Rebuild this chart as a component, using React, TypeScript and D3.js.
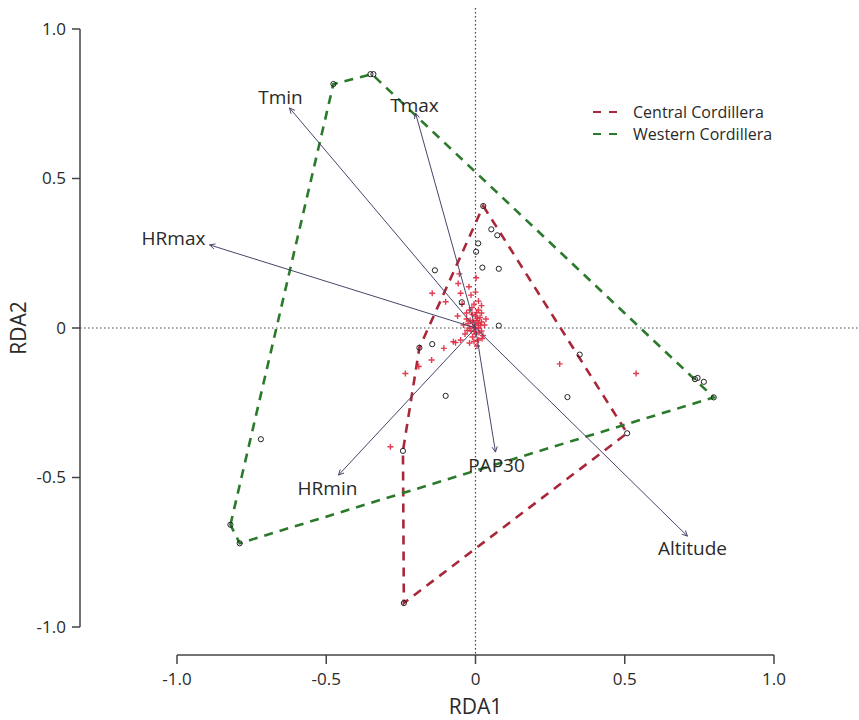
import React, { useRef, useEffect } from "react";
import * as d3 from "d3";

// site scores (open circles)
const sitesX = [0.026, 0.053, 0.073, 0.009, 0.002, 0.023, 0.078, -0.136, -0.046, 0.078, -0.145, -0.188, -0.100, 0.308, 0.349, 0.508, -0.243, -0.240, -0.719, -0.821, -0.790, -0.476, -0.352, -0.342, 0.735, 0.744, 0.765, 0.798];
const sitesY = [0.408, 0.330, 0.310, 0.283, 0.255, 0.202, 0.198, 0.193, 0.086, 0.008, -0.054, -0.066, -0.227, -0.231, -0.089, -0.352, -0.411, -0.920, -0.372, -0.658, -0.720, 0.816, 0.849, 0.849, -0.171, -0.167, -0.180, -0.232];

// species scores (red crosses)
const speciesX = [-0.145, -0.100, -0.022, -0.050, -0.058, -0.074, -0.106, -0.067, -0.147, -0.235, -0.190, -0.285, 0.282, 0.538, -0.054, 0.002,
  -0.01, 0.0, 0.01, -0.02, 0.02, 0.0, -0.01, 0.01, 0.03, -0.03, 0.0, -0.02, 0.01, -0.005, 0.02, -0.015, 0.005, -0.025, 0.015, -0.005, 0.025, -0.035, 0.0, 0.01, -0.01, 0.02, -0.03, -0.04, 0.035, 0.005, -0.02, 0.01, -0.015, 0.0, -0.045, -0.06, -0.05, 0.02,
  -0.008, 0.012, -0.018, 0.006, 0.022, -0.028, 0.004, -0.012, 0.016, -0.004];
const speciesY = [0.116, 0.088, 0.138, 0.116, 0.149, -0.046, -0.068, -0.049, -0.107, -0.152, -0.129, -0.397, -0.120, -0.152, 0.181, 0.168,
  0.02, 0.01, 0.0, 0.0, 0.02, -0.02, -0.03, -0.04, 0.01, 0.03, 0.04, 0.06, 0.06, 0.08, -0.01, -0.01, 0.025, 0.015, 0.035, -0.045, -0.025, -0.02, 0.0, 0.015, 0.045, 0.05, 0.05, 0.01, 0.03, -0.06, -0.05, 0.09, 0.11, 0.12, 0.08, 0.04, -0.04, 0.075,
  0.005, -0.015, 0.025, 0.032, -0.035, -0.008, 0.052, 0.068, 0.008, -0.012];

// convex hulls per group
const centralHull = [[0.026, 0.408], [0.508, -0.352], [-0.240, -0.920], [-0.243, -0.411], [-0.188, -0.066]];
const westernHull = [[-0.821, -0.658], [-0.476, 0.816], [-0.347, 0.849], [0.798, -0.232], [-0.790, -0.720]];

// environmental biplot arrows
const envNames = ["Tmin", "Tmax", "HRmax", "HRmin", "PAP30", "Altitude"];
const envX = [-0.623, -0.201, -0.891, -0.459, 0.067, 0.710];
const envY = [0.736, 0.719, 0.278, -0.492, -0.415, -0.696];

const ticks = [-1, -0.5, 0, 0.5, 1];
const tickLabels = ["-1.0", "-0.5", "0", "0.5", "1.0"];
const groups = ["Central Cordillera", "Western Cordillera"];

export default function App() {
  const ref = useRef<SVGSVGElement>(null);

  useEffect(() => {
    const width = 859;
    const height = 720;
    const font = "'Open Sans', 'Noto Sans', sans-serif";
    const textCol = "#2a2a2a";
    const colors = ["#a8283a", "#2b7a2b"];
    const arrowCol = "#46466a";

    const svg = d3.select(ref.current);
    svg.selectAll("*").remove();
    svg.attr("width", width).attr("height", height);

    const x = d3.scaleLinear().domain([-1, 1]).range([177, 774]);
    const y = d3.scaleLinear().domain([-1, 1]).range([627, 29]);

    // reference lines through origin
    svg.append("line")
      .attr("x1", 80).attr("x2", width)
      .attr("y1", y(0)).attr("y2", y(0))
      .attr("stroke", "#444").attr("stroke-width", 1.2)
      .attr("stroke-dasharray", "1.5,2.5");
    svg.append("line")
      .attr("x1", x(0)).attr("x2", x(0))
      .attr("y1", 8).attr("y2", 655)
      .attr("stroke", "#444").attr("stroke-width", 1.2)
      .attr("stroke-dasharray", "1.5,2.5");

    // left axis
    const left = svg.append("g").attr("transform", "translate(80,0)");
    left.append("line").attr("x1", 0).attr("x2", 0)
      .attr("y1", y(1)).attr("y2", y(-1))
      .attr("stroke", "#444").attr("stroke-width", 1.5);
    ticks.forEach((t, i) => {
      left.append("line").attr("x1", -8).attr("x2", 0)
        .attr("y1", y(t)).attr("y2", y(t))
        .attr("stroke", "#444").attr("stroke-width", 1.5);
      left.append("text")
        .attr("x", -14).attr("y", y(t)).attr("dy", "0.35em")
        .attr("text-anchor", "end")
        .attr("font-family", font).attr("font-size", 17).attr("fill", textCol)
        .text(tickLabels[i]);
    });

    // bottom axis
    const bottom = svg.append("g").attr("transform", "translate(0,655)");
    bottom.append("line").attr("x1", x(-1)).attr("x2", x(1))
      .attr("y1", 0).attr("y2", 0)
      .attr("stroke", "#444").attr("stroke-width", 1.5);
    ticks.forEach((t, i) => {
      bottom.append("line").attr("x1", x(t)).attr("x2", x(t))
        .attr("y1", 0).attr("y2", 9)
        .attr("stroke", "#444").attr("stroke-width", 1.5);
      bottom.append("text")
        .attr("x", x(t)).attr("y", 30)
        .attr("text-anchor", "middle")
        .attr("font-family", font).attr("font-size", 17).attr("fill", textCol)
        .text(tickLabels[i]);
    });

    svg.append("text")
      .attr("x", x(0)).attr("y", 714)
      .attr("text-anchor", "middle")
      .attr("font-family", font).attr("font-size", 21).attr("fill", textCol)
      .text("RDA1");
    svg.append("text")
      .attr("transform", `translate(26,${y(0)}) rotate(-90)`)
      .attr("text-anchor", "middle")
      .attr("font-family", font).attr("font-size", 21).attr("fill", textCol)
      .text("RDA2");

    // hulls
    const line = d3.line<number[]>().x(d => x(d[0])).y(d => y(d[1])).curve(d3.curveLinearClosed);
    [centralHull, westernHull].forEach((h, i) => {
      svg.append("path")
        .attr("d", line(h))
        .attr("fill", "none")
        .attr("stroke", colors[i])
        .attr("stroke-width", 2.6)
        .attr("stroke-dasharray", "9,7");
    });

    // species crosses
    const sp = svg.append("g");
    speciesX.forEach((sx, i) => {
      const cx = x(sx), cy = y(speciesY[i]);
      sp.append("path")
        .attr("d", `M${cx - 3},${cy}H${cx + 3}M${cx},${cy - 3}V${cy + 3}`)
        .attr("stroke", "#e0283f").attr("stroke-width", 1.4).attr("opacity", 0.9);
    });

    // sites
    svg.append("g").selectAll("circle")
      .data(sitesX)
      .enter()
      .append("circle")
      .attr("cx", d => x(d))
      .attr("cy", (d, i) => y(sitesY[i]))
      .attr("r", 2.6)
      .attr("fill", "none")
      .attr("stroke", "#222")
      .attr("stroke-width", 1);

    // arrows
    const offsets = [[-9, -11], [-1, -8], [-36, -7], [-11, 13], [1, 13], [5, 12]];
    envNames.forEach((name, i) => {
      const x1 = x(0), y1 = y(0), x2 = x(envX[i]), y2 = y(envY[i]);
      const ang = Math.atan2(y2 - y1, x2 - x1);
      const len = 6, spread = 0.45;
      svg.append("line")
        .attr("x1", x1).attr("y1", y1).attr("x2", x2).attr("y2", y2)
        .attr("stroke", arrowCol).attr("stroke-width", 1);
      svg.append("path")
        .attr("d", `M${x2 - len * Math.cos(ang - spread)},${y2 - len * Math.sin(ang - spread)}L${x2},${y2}L${x2 - len * Math.cos(ang + spread)},${y2 - len * Math.sin(ang + spread)}`)
        .attr("fill", "none").attr("stroke", arrowCol).attr("stroke-width", 1);
      svg.append("text")
        .attr("x", x2 + offsets[i][0]).attr("y", y2 + offsets[i][1]).attr("dy", "0.35em")
        .attr("text-anchor", "middle")
        .attr("font-family", font).attr("font-size", 19).attr("fill", textCol)
        .text(name);
    });

    // legend
    const legend = svg.append("g").attr("transform", "translate(593,112)");
    groups.forEach((g, i) => {
      const row = legend.append("g").attr("transform", `translate(0,${i * 22})`);
      row.append("line").attr("x1", 0).attr("x2", 24).attr("y1", 0).attr("y2", 0)
        .attr("stroke", colors[i]).attr("stroke-width", 2.2).attr("stroke-dasharray", "8,8");
      row.append("text")
        .attr("x", 40).attr("y", 0).attr("dy", "0.35em")
        .attr("font-family", font).attr("font-size", 16).attr("fill", textCol)
        .text(g);
    });
  }, []);

  return <svg ref={ref} style={{ position: "absolute", left: 0, top: 0 }}></svg>;
}
